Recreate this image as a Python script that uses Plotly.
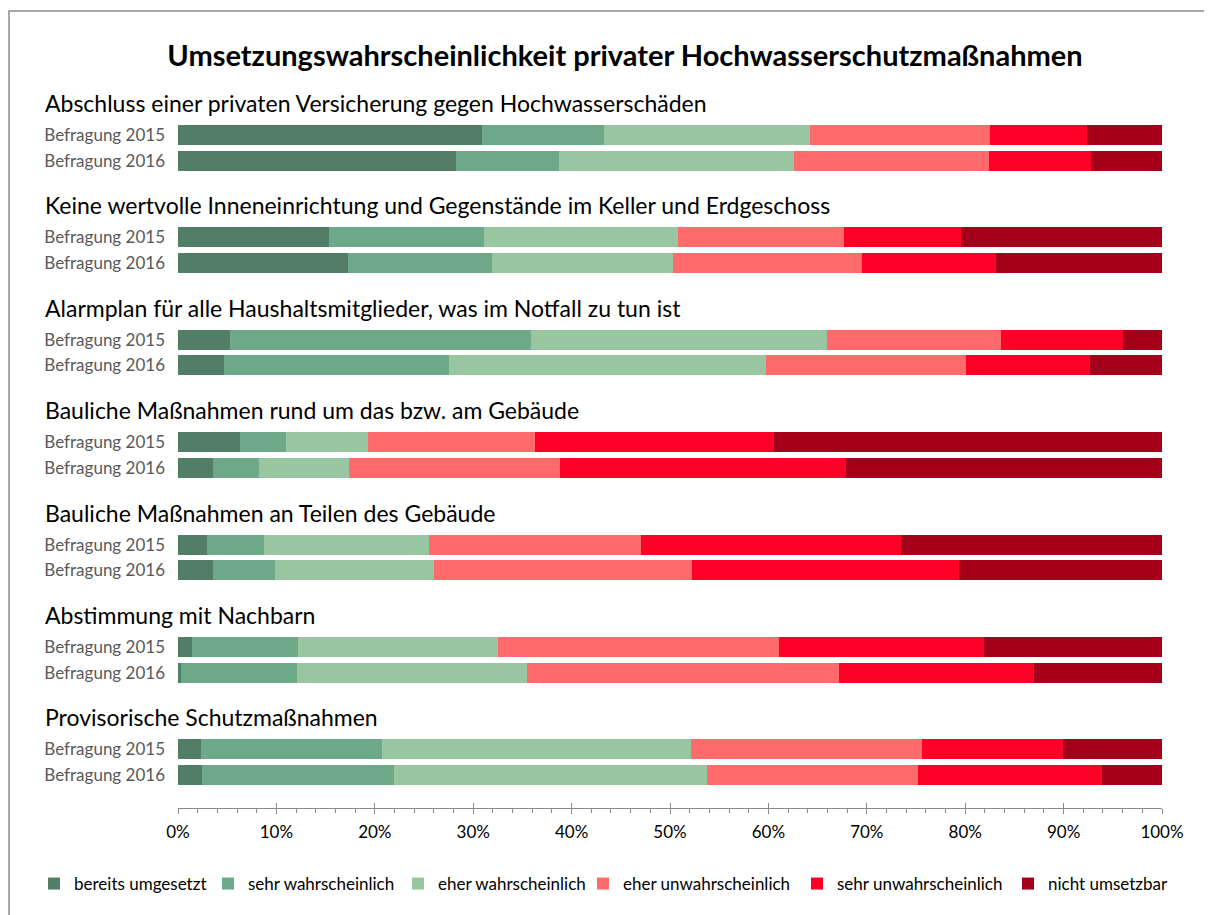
import plotly.graph_objects as go

# Daten
massnahmen = [
    "Abschluss einer privaten Versicherung gegen Hochwasserschäden",
    "Keine wertvolle Inneneinrichtung und Gegenstände im Keller und Erdgeschoss",
    "Alarmplan für alle Haushaltsmitglieder, was im Notfall zu tun ist",
    "Bauliche Maßnahmen rund um das bzw. am Gebäude",
    "Bauliche Maßnahmen an Teilen des Gebäude",
    "Abstimmung mit Nachbarn",
    "Provisorische Schutzmaßnahmen",
]
befragungen = ["Befragung 2015", "Befragung 2016"]
kategorien = ["bereits umgesetzt", "sehr wahrscheinlich", "eher wahrscheinlich",
              "eher unwahrscheinlich", "sehr unwahrscheinlich", "nicht umsetzbar"]

# je Maßnahme: 2015, 2016 (Anteile in %)
bereits_umgesetzt = [30.9, 28.3, 15.3, 17.3, 5.3, 4.7, 6.3, 3.6, 2.9, 3.6, 1.4, 0.3, 2.3, 2.4]
sehr_wahrscheinlich = [12.4, 10.4, 15.8, 14.6, 30.6, 22.8, 4.7, 4.6, 5.8, 6.3, 10.8, 11.8, 18.4, 19.5]
eher_wahrscheinlich = [20.9, 23.9, 19.7, 18.4, 30.1, 32.3, 8.3, 9.2, 16.8, 16.1, 20.3, 23.4, 31.4, 31.9]
eher_unwahrscheinlich = [18.3, 19.8, 16.9, 19.2, 17.6, 20.3, 17.0, 21.4, 21.6, 26.2, 28.6, 31.7, 23.5, 21.4]
sehr_unwahrscheinlich = [9.9, 10.4, 11.9, 13.6, 12.4, 12.6, 24.3, 29.1, 26.4, 27.2, 20.8, 19.8, 14.3, 18.7]
nicht_umsetzbar = [7.6, 7.2, 20.4, 16.9, 4.0, 7.3, 39.4, 32.1, 26.5, 20.6, 18.1, 13.0, 10.1, 6.1]

farben = ["#527E68", "#6DA889", "#97C6A0", "#FF6B6B", "#FF0029", "#A50019"]

serien = [bereits_umgesetzt, sehr_wahrscheinlich, eher_wahrscheinlich,
          eher_unwahrscheinlich, sehr_unwahrscheinlich, nicht_umsetzbar]

FONT = "Lato"

# Seite hat 8px Rand -> Figur etwas kleiner
W, H = 1204, 907
ML, MR, MT, MB = 170, 50, 82, 107
PW = W - ML - MR          # 984
PH = H - MT - MB          # 718

# Positionen: pro Maßnahme eine Titelzeile + zwei Balken
y_pos = [4 * g + k for g in range(len(massnahmen)) for k in range(len(befragungen))]
y_text = [befragungen[k] for g in range(len(massnahmen)) for k in range(len(befragungen))]

# Legenden-Positionen (linker Rand des Farbkästchens, px in der Figur)
legende_x = [40, 214, 404, 589, 803, 1014]

fig = go.Figure()
for i, (name, werte, farbe) in enumerate(zip(kategorien, serien, farben)):
    fig.add_trace(go.Bar(
        y=y_pos, x=werte, name=name, orientation="h",
        marker=dict(color=farbe, line=dict(width=0)),
        legend="legend" if i == 0 else f"legend{i + 1}",
    ))

# Titel der Maßnahmen
for g, titel in enumerate(massnahmen):
    fig.add_annotation(
        text=titel, xref="paper", yref="y", x=-0.137, y=4 * g - 1.25,
        xanchor="left", yanchor="middle", showarrow=False,
        font=dict(family=FONT, size=23, color="#000000"),
    )

# Rahmen
fig.add_shape(type="rect", xref="paper", yref="paper",
              x0=(1 - ML) / PW, x1=(W + 20 - ML) / PW,
              y0=-0.3, y1=(MT + PH - 3) / PH,
              line=dict(color="#8c8c8c", width=1.5), layer="below")

legenden = {}
for i, lx in enumerate(legende_x):
    key = "legend" if i == 0 else f"legend{i + 1}"
    legenden[key] = dict(
        orientation="h", x=(lx - 14 - ML) / PW, xanchor="left",
        y=(MT + PH - (884 - 8)) / PH, yanchor="middle",
        font=dict(family=FONT, size=17, color="#000000"),
        itemwidth=30, bgcolor="rgba(0,0,0,0)",
    )

fig.update_layout(
    width=W, height=H,
    margin=dict(l=ML, r=MR, t=MT, b=MB),
    barmode="stack", barnorm="percent", bargap=0.22,
    plot_bgcolor="white", paper_bgcolor="white",
    font=dict(family=FONT, color="#000000"),
    title=dict(
        text="<b>Umsetzungswahrscheinlichkeit privater Hochwasserschutzmaßnahmen</b>",
        x=617 / W, xanchor="center", y=1 - 48 / H, yanchor="middle",
        font=dict(family=FONT, size=29, color="#000000"),
    ),
    xaxis=dict(
        range=[0, 100], tickvals=list(range(0, 101, 10)),
        ticktext=[f"{v}%" for v in range(0, 101, 10)],
        showgrid=False, zeroline=False,
        showline=True, linecolor="#8c8c8c", linewidth=1,
        ticks="outside", ticklen=5, tickcolor="#8c8c8c",
        minor=dict(dtick=2, ticks="outside", ticklen=4, tickcolor="#8c8c8c"),
        tickfont=dict(family=FONT, size=17, color="#000000"),
        ticklabelstandoff=4,
    ),
    xaxis2=dict(
        overlaying="x", matches="x", range=[0, 100], side="bottom", anchor="y",
        tickvals=list(range(0, 101, 10)), showticklabels=False,
        ticks="inside", ticklen=5, tickcolor="#8c8c8c",
        showgrid=False, zeroline=False, showline=False,
    ),
    yaxis=dict(
        range=[26.29, -1.76], tickvals=y_pos, ticktext=y_text,
        showgrid=False, zeroline=False, showline=False, ticks="",
        ticklabelstandoff=12,
        tickfont=dict(family=FONT, size=17, color="#595959"),
    ),
    **legenden,
)

# Dummy-Trace für die zweite x-Achse (nur Hauptstriche nach innen)
fig.add_trace(go.Scatter(x=[0], y=[0], xaxis="x2", yaxis="y", mode="markers",
                         marker=dict(opacity=0), showlegend=False, hoverinfo="skip"))

fig.write_html("out.html")
